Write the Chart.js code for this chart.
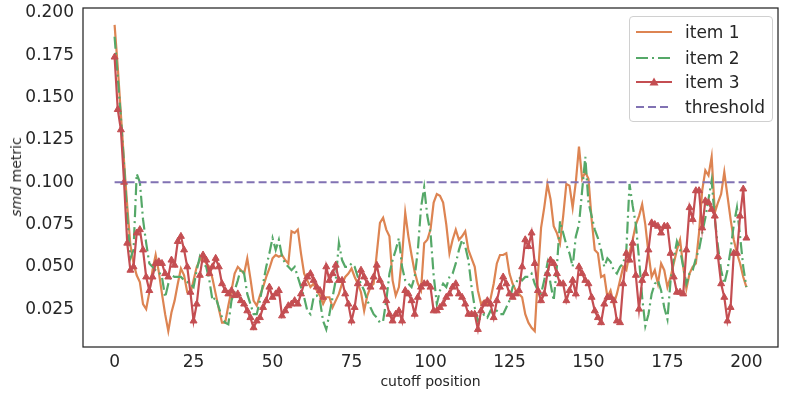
<!DOCTYPE html>
<html>
<head>
<meta charset="utf-8">
<script src="https://cdn.jsdelivr.net/npm/chart.js@4.4.1/dist/chart.umd.min.js"></script>
<style>
    body { margin: 0; background: #fff; }
    #wrap { position: relative; width: 789px; height: 393px; font-family: 'DejaVu Sans', sans-serif; color: #262626; }
    #ylabel { position: absolute; left: 16px; top: 177px; transform: translate(-50%, -50%) rotate(-90deg); font-size: 14px; white-space: nowrap; }
    #legend { position: absolute; left: 629px; top: 16px; width: 144px; height: 106px; border: 1px solid #d0d0d0; border-radius: 4px; background: rgba(255,255,255,0.85); box-sizing: border-box; }
    .row { position: absolute; left: 0; height: 20px; display: flex; align-items: center; font-size: 17px; }
    .row svg { margin-left: 6px; margin-right: 13px; }
</style>
</head>
<body>
<div id="wrap">
    <canvas id="grafico" width="789" height="393"></canvas>
    <div id="ylabel"><i>smd</i> metric</div>
    <div id="legend"></div>
</div>
<script>
// ==================== DADOS ====================
const rotulos = ['item 1', 'item 2', 'item 3', 'threshold'];
const cores = ['#DD8452', '#55A868', '#C44E52', '#8172B3'];
const ticksX = [0, 25, 50, 75, 100, 125, 150, 175, 200];
const ticksY = [0.025, 0.050, 0.075, 0.100, 0.125, 0.150, 0.175, 0.200];
const limiar = 0.1;

const item1 = [0.193,0.168,0.140,0.112,0.086,0.063,0.052,0.045,0.041,0.028,
    0.025,0.035,0.048,0.057,0.047,0.034,0.022,0.012,0.023,0.030,
    0.040,0.049,0.045,0.035,0.034,0.042,0.050,0.054,0.056,0.052,
    0.050,0.043,0.034,0.025,0.017,0.017,0.027,0.036,0.046,0.050,
    0.048,0.046,0.055,0.043,0.030,0.027,0.033,0.038,0.044,0.049,
    0.055,0.057,0.056,0.057,0.054,0.052,0.071,0.070,0.072,0.058,
    0.046,0.042,0.038,0.040,0.036,0.033,0.028,0.032,0.032,0.026,
    0.030,0.034,0.040,0.044,0.046,0.049,0.044,0.040,0.035,0.024,
    0.033,0.038,0.040,0.058,0.076,0.079,0.072,0.068,0.042,0.033,
    0.038,0.056,0.082,0.068,0.057,0.047,0.040,0.036,0.064,0.066,
    0.072,0.088,0.093,0.092,0.088,0.075,0.058,0.066,0.072,0.066,
    0.068,0.071,0.060,0.055,0.050,0.036,0.028,0.030,0.028,0.031,
    0.040,0.052,0.057,0.057,0.058,0.046,0.040,0.036,0.034,0.032,
    0.022,0.017,0.014,0.012,0.045,0.073,0.085,0.099,0.090,0.074,
    0.070,0.064,0.080,0.099,0.098,0.085,0.100,0.121,0.102,0.106,
    0.102,0.078,0.060,0.058,0.044,0.045,0.032,0.036,0.028,0.034,
    0.042,0.050,0.048,0.058,0.066,0.075,0.080,0.087,0.075,0.058,
    0.044,0.048,0.040,0.052,0.048,0.038,0.044,0.052,0.060,0.066,
    0.050,0.037,0.046,0.050,0.052,0.070,0.095,0.107,0.104,0.115,
    0.082,0.088,0.093,0.106,0.092,0.078,0.066,0.058,0.052,0.044,
    0.038];

const item2 = [0.186,0.162,0.138,0.110,0.080,0.055,0.060,0.105,0.100,0.078,
    0.064,0.052,0.050,0.048,0.047,0.044,0.032,0.040,0.045,0.044,
    0.044,0.044,0.042,0.041,0.040,0.038,0.048,0.056,0.052,0.050,
    0.042,0.030,0.032,0.026,0.020,0.017,0.016,0.030,0.036,0.042,
    0.049,0.046,0.034,0.028,0.022,0.022,0.030,0.040,0.050,0.058,
    0.067,0.060,0.066,0.056,0.052,0.050,0.048,0.050,0.044,0.038,
    0.032,0.024,0.022,0.032,0.033,0.030,0.018,0.013,0.022,0.032,
    0.042,0.064,0.054,0.050,0.050,0.052,0.050,0.044,0.040,0.036,
    0.030,0.026,0.022,0.020,0.017,0.018,0.030,0.046,0.054,0.060,
    0.067,0.050,0.042,0.040,0.038,0.044,0.060,0.085,0.097,0.080,
    0.070,0.045,0.028,0.036,0.040,0.038,0.044,0.046,0.052,0.060,
    0.066,0.062,0.054,0.038,0.026,0.018,0.020,0.022,0.020,0.024,
    0.022,0.024,0.022,0.022,0.026,0.030,0.038,0.040,0.044,0.042,
    0.044,0.044,0.046,0.040,0.036,0.034,0.042,0.052,0.040,0.030,
    0.050,0.077,0.070,0.063,0.058,0.050,0.068,0.075,0.095,0.115,
    0.088,0.080,0.072,0.067,0.060,0.050,0.055,0.053,0.048,0.046,
    0.050,0.052,0.060,0.099,0.086,0.075,0.055,0.032,0.015,0.022,
    0.034,0.040,0.042,0.036,0.026,0.019,0.042,0.055,0.065,0.060,
    0.050,0.040,0.046,0.048,0.055,0.060,0.070,0.079,0.090,0.101,
    0.078,0.062,0.048,0.040,0.048,0.060,0.075,0.085,0.068,0.050,
    0.038];

const item3 = [0.174,0.143,0.131,0.100,0.064,0.048,0.050,0.070,0.072,0.060,
    0.044,0.036,0.044,0.052,0.053,0.052,0.046,0.044,0.054,0.051,
    0.065,0.068,0.060,0.050,0.035,0.018,0.028,0.045,0.057,0.054,
    0.046,0.050,0.055,0.050,0.040,0.036,0.034,0.036,0.033,0.034,
    0.030,0.028,0.024,0.020,0.014,0.018,0.020,0.026,0.030,0.038,
    0.032,0.034,0.036,0.021,0.024,0.027,0.028,0.030,0.028,0.034,
    0.040,0.044,0.046,0.042,0.038,0.036,0.032,0.050,0.042,0.046,
    0.051,0.042,0.042,0.034,0.028,0.018,0.026,0.040,0.048,0.044,
    0.040,0.038,0.044,0.051,0.042,0.038,0.030,0.022,0.018,0.022,
    0.024,0.018,0.036,0.034,0.030,0.022,0.032,0.038,0.040,0.040,
    0.038,0.024,0.024,0.026,0.028,0.032,0.034,0.038,0.040,0.034,
    0.032,0.028,0.022,0.022,0.022,0.013,0.024,0.028,0.030,0.028,
    0.020,0.030,0.038,0.044,0.040,0.034,0.032,0.034,0.036,0.050,
    0.066,0.062,0.070,0.052,0.036,0.030,0.034,0.046,0.054,0.052,
    0.046,0.040,0.040,0.030,0.036,0.042,0.034,0.050,0.046,0.042,
    0.040,0.032,0.024,0.020,0.017,0.028,0.032,0.032,0.030,0.018,
    0.017,0.040,0.058,0.054,0.064,0.045,0.025,0.042,0.046,0.060,
    0.076,0.075,0.074,0.070,0.074,0.074,0.058,0.044,0.035,0.035,
    0.034,0.060,0.085,0.078,0.095,0.095,0.073,0.089,0.088,0.084,
    0.080,0.056,0.040,0.032,0.018,0.026,0.058,0.058,0.080,0.096,
    0.067];

// ==================== GRAFICO ====================
const pontos = serie => serie.map((v, i) => ({ x: i, y: v }));
const linhaLimiar = item1.map((_, i) => ({ x: i, y: limiar }));
const fonte = "'DejaVu Sans', sans-serif";

const moldura = {
    id: 'moldura',
    afterDatasetsDraw(chart) {
        const { ctx, chartArea: a } = chart;
        ctx.save();
        ctx.strokeStyle = '#262626';
        ctx.lineWidth = 1.25;
        ctx.strokeRect(a.left, a.top, a.right - a.left, a.bottom - a.top);
        ctx.restore();
    }
};

new Chart(document.getElementById('grafico'), {
    type: 'line',
    data: {
        datasets: [
            { label: rotulos[0], data: pontos(item1), borderColor: cores[0], borderWidth: 2.2, pointRadius: 0, order: 4 },
            { label: rotulos[1], data: pontos(item2), borderColor: cores[1], borderWidth: 2.2, borderDash: [12, 4, 2, 4], pointRadius: 0, order: 3 },
            { label: rotulos[2], data: pontos(item3), borderColor: cores[2], borderWidth: 2.2, pointStyle: 'triangle', pointRadius: 4, pointBackgroundColor: cores[2], pointBorderColor: cores[2], pointBorderWidth: 1, order: 2 },
            { label: rotulos[3], data: linhaLimiar, borderColor: cores[3], borderWidth: 2.2, borderDash: [8, 4], pointRadius: 0, order: 1 }
        ]
    },
    options: {
        responsive: false,
        animation: false,
        devicePixelRatio: 1,
        layout: { padding: { top: 8, right: 11, left: 0, bottom: 0 } },
        elements: { line: { tension: 0 } },
        plugins: { legend: { display: false }, tooltip: { enabled: false } },
        scales: {
            x: {
                type: 'linear',
                min: -10,
                max: 210,
                afterBuildTicks: s => { s.ticks = ticksX.map(v => ({ value: v })); },
                afterFit: s => { s.height = 46; s.paddingLeft = 0; s.paddingRight = 0; },
                grid: { display: false, drawTicks: false },
                border: { display: false },
                ticks: { color: '#262626', font: { family: fonte, size: 17 }, padding: 5, maxRotation: 0 },
                title: { display: true, text: 'cutoff position', color: '#262626', font: { family: fonte, size: 14 }, padding: { top: 0, bottom: 2 } }
            },
            y: {
                min: 0.0026,
                max: 0.203,
                afterBuildTicks: s => { s.ticks = ticksY.map(v => ({ value: v })); },
                afterFit: s => { s.width = 83; s.paddingTop = 0; s.paddingBottom = 0; },
                grid: { display: false, drawTicks: false },
                border: { display: false },
                ticks: { color: '#262626', font: { family: fonte, size: 17 }, padding: 9, callback: v => v.toFixed(3) }
            }
        }
    },
    plugins: [moldura]
});

// ==================== LEGENDA ====================
const amostras = [
    '<line x1="0" y1="6" x2="36" y2="6" stroke="' + cores[0] + '" stroke-width="2.2"/>',
    '<line x1="0" y1="6" x2="36" y2="6" stroke="' + cores[1] + '" stroke-width="2.2" stroke-dasharray="12 4 2 4"/>',
    '<line x1="0" y1="6" x2="36" y2="6" stroke="' + cores[2] + '" stroke-width="2.2"/><polygon points="18,1.5 22.5,9.5 13.5,9.5" fill="' + cores[2] + '"/>',
    '<line x1="0" y1="6" x2="36" y2="6" stroke="' + cores[3] + '" stroke-width="2.2" stroke-dasharray="8 4"/>'
];
const topos = [5, 31, 55, 80];
document.getElementById('legend').innerHTML = rotulos.map((r, i) => `
    <div class="row" style="top:${topos[i]}px">
        <svg width="36" height="12">${amostras[i]}</svg><span>${r}</span>
    </div>`).join('');
</script>
</body>
</html>
